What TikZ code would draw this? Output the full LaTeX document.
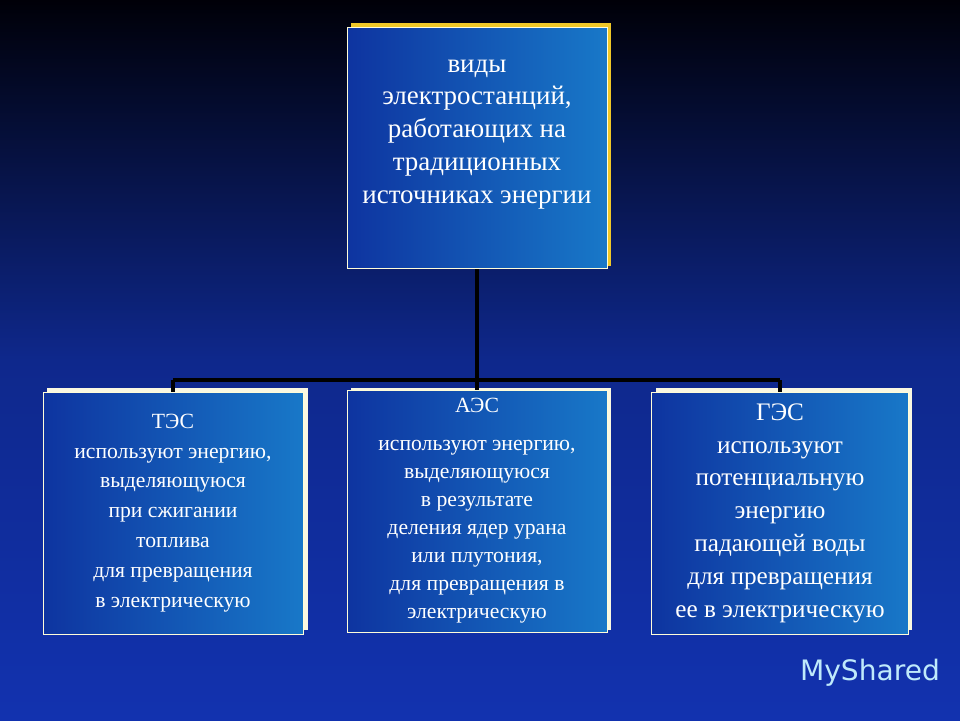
\documentclass[tikz,border=0pt]{standalone}
\usepackage{fontspec}
\setmainfont{Liberation Serif}
\setsansfont{DejaVu Sans}
\usetikzlibrary{positioning,calc}
\definecolor{boxdark}{RGB}{14,52,160}
\definecolor{boxlight}{RGB}{24,120,200}
\definecolor{bgtop}{RGB}{0,0,8}
\definecolor{bgbot}{RGB}{18,50,175}
\definecolor{shadeyel}{RGB}{240,200,40}
\definecolor{shadecream}{RGB}{250,248,225}

\tikzset{
  plant/.style={draw=white!85!yellow, line width=0.6pt, left color=boxdark, right color=boxlight,
    minimum width=7.8cm, minimum height=7.25cm, align=center, text=white, inner sep=2pt},
  link/.style={-, line width=4pt, black}
}

\begin{document}
\begin{tikzpicture}[x=0.03cm,y=-0.03cm]
    \shade[top color=bgtop, bottom color=bgbot, middle color=bgbot!80!black] (0,0) rectangle (960,720);
    \useasboundingbox (0,0) rectangle (960,720);

    % shadows
    \fill[shadeyel] (351,23) rectangle (611,266);
    \fill[shadecream] (47,388) rectangle (308,630);
    \fill[shadecream] (351,388) rectangle (611,630);
    \fill[shadecream] (656,388) rectangle (912,630);

    \node[plant, font=\fontsize{23}{28}\selectfont] (root) at (477,148)
      {виды\\ электростанций,\\ работающих на\\ традиционных\\ источниках энергии\\ \mbox{}};
    \node[plant, font=\fontsize{18.5}{25.5}\selectfont] (tes) at (173,513)
      {ТЭС\\ используют энергию,\\ выделяющуюся\\ при сжигании\\ топлива\\ для превращения\\ в электрическую\hspace{1.5em}};
    \node[plant, font=\fontsize{18.5}{24}\selectfont] (aes) at (477,511)
      {АЭС\\[8pt] используют энергию,\\ выделяющуюся\hspace{1em}\\ в результате\hspace{1em}\\ деления ядер урана\\ или плутония,\hspace{1em}\\ для превращения в\\ электрическую};
    \node[plant, minimum width=7.7cm, font=\fontsize{21.5}{28}\selectfont] (ges) at (780,513)
      {ГЭС\\ используют\\ потенциальную\\ энергию\\ падающей воды\\ для превращения\\ ее в электрическую};

    \coordinate (hub) at (root.south |- 0,380);
    \draw[link] (root.south) -- (hub);
    \draw[link] (hub -| tes.north) -- (hub -| ges.north);
    \draw[link] (hub -| tes.north) -- (tes.north);
    \draw[link] (hub) -- (aes.north);
    \draw[link] (hub -| ges.north) -- (ges.north);

    \node[text=white!75!cyan, font=\sffamily\fontsize{24}{26}\selectfont] (logo) at (870,673) {MyShared};
\end{tikzpicture}
\end{document}
